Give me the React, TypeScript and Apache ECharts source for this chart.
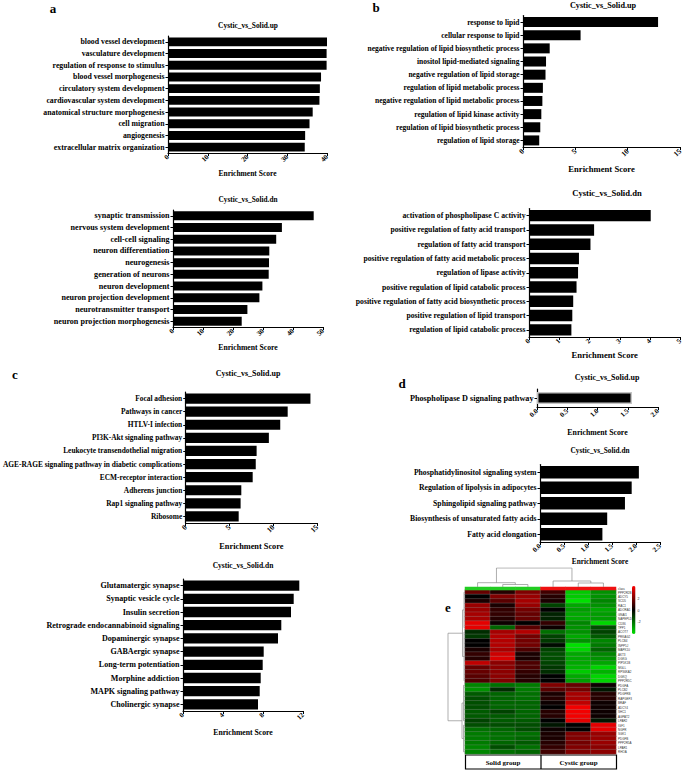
import React, { useEffect, useRef } from "react";
import * as echarts from "echarts";

const FONT = '"Liberation Serif", "Times New Roman", Times, serif';

// ---------- panel a ----------
const aUpTerms = ["blood vessel development", "vasculature development", "regulation of response to stimulus", "blood vessel morphogenesis", "circulatory system development", "cardiovascular system development", "anatomical structure morphogenesis", "cell migration", "angiogenesis", "extracellular matrix organization"];
const aUpScores = [40.0, 39.9, 39.9, 38.5, 38.2, 38.1, 36.4, 35.6, 34.5, 34.4];
const aDnTerms = ["synaptic transmission", "nervous system development", "cell-cell signaling", "neuron differentiation", "neurogenesis", "generation of neurons", "neuron development", "neuron projection development", "neurotransmitter transport", "neuron projection morphogenesis"];
const aDnScores = [46.9, 36.3, 34.4, 32.1, 32.0, 31.9, 29.8, 28.8, 24.8, 22.9];

// ---------- panel b ----------
const bUpTerms = ["response to lipid", "cellular response to lipid", "negative regulation of lipid biosynthetic process", "inositol lipid-mediated signaling", "negative regulation of lipid storage", "regulation of lipid metabolic process", "negative regulation of lipid metabolic process", "regulation of lipid kinase activity", "regulation of lipid biosynthetic process", "regulation of lipid storage"];
const bUpScores = [12.9, 5.5, 2.55, 2.2, 2.15, 1.9, 1.85, 1.75, 1.65, 1.55];
const bDnTerms = ["activation of phospholipase C activity", "positive regulation of fatty acid transport", "regulation of fatty acid transport", "positive regulation of fatty acid metabolic process", "regulation of lipase activity", "positive regulation of lipid catabolic process", "positive regulation of fatty acid biosynthetic process", "positive regulation of lipid transport", "regulation of lipid catabolic process"];
const bDnScores = [4.02, 2.15, 2.03, 1.65, 1.62, 1.57, 1.46, 1.43, 1.4];

// ---------- panel c ----------
const cUpTerms = ["Focal adhesion", "Pathways in cancer", "HTLV-I infection", "PI3K-Akt signaling pathway", "Leukocyte transendothelial migration", "AGE-RAGE signaling pathway in diabetic complications", "ECM-receptor interaction", "Adherens junction", "Rap1 signaling pathway", "Ribosome"];
const cUpScores = [14.25, 11.65, 10.8, 9.5, 8.1, 8.0, 7.65, 6.35, 6.27, 6.05];
const cDnTerms = ["Glutamatergic synapse", "Synaptic vesicle cycle", "Insulin secretion", "Retrograde endocannabinoid signaling", "Dopaminergic synapse", "GABAergic synapse", "Long-term potentiation", "Morphine addiction", "MAPK signaling pathway", "Cholinergic synapse"];
const cDnScores = [11.63, 11.07, 10.8, 9.83, 9.5, 8.07, 7.97, 7.77, 7.67, 7.5];

// ---------- panel d ----------
const dUpTerms = ["Phospholipase D signaling pathway"];
const dUpScores = [1.57];
const dDnTerms = ["Phosphatidylinositol signaling system", "Regulation of lipolysis in adipocytes", "Sphingolipid signaling pathway", "Biosynthesis of unsaturated fatty acids", "Fatty acid elongation"];
const dDnScores = [2.06, 1.91, 1.77, 1.4, 1.3];

// ---------- panel e (heatmap) ----------
const sampleNames = ["S1", "S2", "S3", "C1", "C2", "C3"];
const sampleGroup = [0, 0, 0, 1, 1, 1];
const geneNames = ["PPP2R2B", "ADCY5", "SCD5", "RAC1", "ADORA1", "GNAI1", "NAPEPLD", "CD36", "TPP1", "ACOT7", "PRKAG2", "PLCB4", "INPP5J", "MAPK10", "AKT3", "DGKG", "PIP5K1B", "MGLL", "RPS6KA2", "DGKQ", "PPP2R5C", "PDGFA", "PLCB2", "PDGFRB", "RAPGEF3", "BRAF", "ADCY4", "SHC1", "AGPAT2", "LPAR2", "IGF1", "NGFR", "SGK1", "PDGFB", "PPP2R5A", "LPAR1", "RHOA"];
const expression = [
  [1.6, 0.6, 2.0, 1.0, -3.6, -2.6],
  [0.0, 2.0, 2.4, 0.6, -3.6, -2.6],
  [0.4, 1.4, 2.6, 0.4, -4.0, -2.4],
  [2.4, 0.4, 2.4, -1.2, -3.0, -2.6],
  [2.4, 0.8, 1.8, 0.0, -2.8, -3.0],
  [2.6, 0.8, 1.6, -0.6, -3.0, -2.8],
  [2.6, 0.6, 1.6, -0.6, -3.0, -2.8],
  [3.6, 0.2, 0.0, 0.8, -2.4, -3.8],
  [3.6, -1.8, 1.4, 0.2, -2.6, -1.4],
  [-0.8, 2.6, 2.8, -2.0, -2.6, -1.2],
  [-1.0, 2.8, 1.8, -1.2, -3.0, -1.6],
  [0.0, 2.8, 1.8, -1.0, -2.6, -2.4],
  [0.0, 2.8, 1.8, -0.2, -4.0, -2.2],
  [0.4, 2.6, 1.2, -1.2, -3.8, -1.8],
  [0.8, 3.2, 0.4, -1.4, -3.0, -2.4],
  [0.6, 3.4, 0.4, -1.4, -3.0, -2.6],
  [3.0, 2.2, 1.2, -1.2, -3.0, -3.0],
  [1.6, 2.2, 1.2, -1.0, -3.2, -3.8],
  [1.6, 2.2, 0.8, -0.8, -3.6, -3.2],
  [1.4, 2.2, 0.6, 0.0, -3.0, -3.8],
  [1.2, 2.0, 0.6, 0.0, -2.8, -3.8],
  [-2.4, -2.0, -2.2, 2.0, 1.6, 0.2],
  [-2.6, -0.8, -2.2, 1.4, 1.8, -0.4],
  [-1.6, -1.8, -2.0, 0.4, 2.6, 0.6],
  [-1.4, -1.8, -2.0, 0.6, 2.6, 0.6],
  [-1.4, -1.8, -1.8, 0.2, 3.0, 0.2],
  [-1.4, -1.8, -1.8, 0.0, 3.8, 0.2],
  [-1.6, -1.2, -1.8, 0.6, 3.8, 0.2],
  [-1.6, -1.6, -1.8, 0.6, 3.8, 0.2],
  [-1.2, -1.6, -1.6, 0.0, 3.6, -0.4],
  [-1.4, -1.4, -1.4, -0.4, 0.0, 3.6],
  [-2.0, -1.8, -1.4, 0.2, 0.0, 3.6],
  [-2.2, -2.0, -2.0, 0.4, 2.0, 2.4],
  [-2.2, -2.0, -1.8, 0.4, 2.0, 2.4],
  [-2.2, -1.8, -1.6, 0.6, 1.8, 2.4],
  [-2.4, -1.4, -2.0, 0.8, 2.0, 2.2],
  [-2.4, -2.0, -1.8, 1.0, 2.0, 2.2],
];
const legendTicks = ["2", "0", "-2"];
// dendrogram links: [pos1, height1, pos2, height2, mergeHeight]
const rowLinks = [
  [0.5, 0, 8.5, 0, 1],
  [9.5, 0, 20.5, 0, 1],
  [21.5, 0, 29.5, 0, 1.5],
  [30.5, 0, 36.5, 0, 1.5],
  [4.5, 1, 15, 1, 2.5],
  [25.5, 1.5, 33.5, 1.5, 3],
  [9.75, 2.5, 29.5, 3, 17],
];
const colLinks = [
  [1.5, 0, 2.5, 0, 2.5],
  [0.5, 0, 2, 2.5, 4.3],
  [4.5, 0, 5.5, 0, 4],
  [3.5, 0, 5, 4, 6],
  [1.25, 4.3, 4.25, 6, 19],
];

type Panel = {
  cats: string[]; vals: number[];
  left: number; top: number; width: number; height: number;
  max: number; interval: number; gap: string;
  labelSize: number; tickSize: number; nameSize: number; nameGap: number;
  decimals: number; border?: boolean;
};

const panels: Panel[] = [
  { cats: aUpTerms, vals: aUpScores, left: 168, top: 36, width: 159, height: 117, max: 40, interval: 10, gap: "24%", labelSize: 7.8, tickSize: 7, nameSize: 7.5, nameGap: 16, decimals: 0 },
  { cats: aDnTerms, vals: aDnScores, left: 173, top: 210, width: 150, height: 117, max: 50, interval: 10, gap: "23%", labelSize: 8.1, tickSize: 7, nameSize: 7.7, nameGap: 16, decimals: 0 },
  { cats: bUpTerms, vals: bUpScores, left: 523, top: 15.5, width: 161, height: 131.5, max: 15, interval: 5, gap: "24%", labelSize: 7.5, tickSize: 7.5, nameSize: 8.6, nameGap: 17, decimals: 0 },
  { cats: bDnTerms, vals: bDnScores, left: 529, top: 208.5, width: 154, height: 128.5, max: 5, interval: 1, gap: "20%", labelSize: 7.7, tickSize: 7, nameSize: 8.6, nameGap: 13, decimals: 0 },
  { cats: cUpTerms, vals: cUpScores, left: 183, top: 392, width: 134, height: 131, max: 15, interval: 5, gap: "22%", labelSize: 7.4, tickSize: 7.5, nameSize: 8.3, nameGap: 19, decimals: 0 },
  { cats: cDnTerms, vals: cDnScores, left: 183, top: 579, width: 120, height: 132, max: 12, interval: 4, gap: "22%", labelSize: 8.05, tickSize: 7, nameSize: 7.7, nameGap: 17, decimals: 0 },
  { cats: dUpTerms, vals: dUpScores, left: 537, top: 389, width: 121, height: 18, max: 2, interval: 0.5, gap: "33%", labelSize: 8.2, tickSize: 7, nameSize: 7.8, nameGap: 21, decimals: 1, border: true },
  { cats: dDnTerms, vals: dDnScores, left: 540, top: 464.5, width: 120, height: 77.5, max: 2.5, interval: 0.5, gap: "20%", labelSize: 7.7, tickSize: 7, nameSize: 7.3, nameGap: 16, decimals: 1 },
];

const titles = [
  { text: "Cystic_vs_Solid.up", x: 248, y: 25, size: 7.4 },
  { text: "Cystic_vs_Solid.dn", x: 248, y: 199, size: 7.3 },
  { text: "Cystic_vs_Solid.up", x: 603, y: 5, size: 8.2 },
  { text: "Cystic_vs_Solid.dn", x: 607, y: 193, size: 8.6 },
  { text: "Cystic_vs_Solid.up", x: 248, y: 373, size: 8 },
  { text: "Cystic_vs_Solid.dn", x: 243, y: 565, size: 7.5 },
  { text: "Cystic_vs_Solid.up", x: 607, y: 377, size: 8 },
  { text: "Cystic_vs_Solid.dn", x: 600, y: 450, size: 7.3 },
];
const letters = [
  { text: "a", x: 53, y: 8 },
  { text: "b", x: 376, y: 7 },
  { text: "c", x: 15, y: 374 },
  { text: "d", x: 402, y: 383 },
  { text: "e", x: 448, y: 607 },
];

function link(l: number[], horizontal: boolean) {
  const [p1, h1, p2, h2, h] = l;
  const pts = [[h1, p1], [h, p1], [h, p2], [h2, p2]];
  return { coords: horizontal ? pts : pts.map(([a, b]) => [b, a]) };
}

function buildOption() {
  const grid: any[] = [];
  const xAxis: any[] = [];
  const yAxis: any[] = [];
  const series: any[] = [];
  const axisLineStyle = { color: "#000", width: 1.2 };

  panels.forEach((p, i) => {
    grid.push({ left: p.left, top: p.top, width: p.width, height: p.height });
    xAxis.push({
      type: "value", gridIndex: i, min: 0, max: p.max, interval: p.interval,
      axisLine: { show: true, lineStyle: axisLineStyle },
      axisTick: { show: true, length: 3, lineStyle: { color: "#000", width: 1 } },
      splitLine: { show: false },
      axisLabel: {
        rotate: 45, margin: 3, fontSize: p.tickSize, fontWeight: "bold", fontFamily: FONT, color: "#000",
        formatter: (v: number) => v.toFixed(p.decimals),
      },
      name: "Enrichment Score", nameLocation: "middle", nameGap: p.nameGap,
      nameTextStyle: { fontSize: p.nameSize, fontWeight: "bold", fontFamily: FONT, color: "#000" },
    });
    yAxis.push({
      type: "category", gridIndex: i, data: p.cats, inverse: true,
      axisLine: { show: true, onZero: false, lineStyle: axisLineStyle },
      axisTick: { show: true, alignWithLabel: true, length: 2.5, lineStyle: { color: "#000", width: 1 } },
      axisLabel: { interval: 0, margin: 3.5, fontSize: p.labelSize, fontWeight: "bold", fontFamily: FONT, color: "#000" },
      splitLine: { show: false },
    });
    series.push({
      type: "bar", xAxisIndex: i, yAxisIndex: i, data: p.vals, barCategoryGap: p.gap,
      itemStyle: p.border ? { color: "#000", borderColor: "#c4c4c4", borderWidth: 1.5 } : { color: "#000" },
      silent: true,
    });
  });

  // heatmap grid
  const hi = panels.length;
  grid.push({ left: 465, top: 590, width: 151, height: 164 });
  xAxis.push({ type: "category", gridIndex: hi, data: sampleNames, show: false });
  yAxis.push({
    type: "category", gridIndex: hi, data: geneNames, inverse: true, position: "right",
    axisLine: { show: false }, axisTick: { show: false },
    axisLabel: { interval: 0, fontSize: 3, margin: 2, color: "#333", fontFamily: "Liberation Sans, Arial, sans-serif" },
  });
  const heatData: number[][] = [];
  expression.forEach((row, r) => row.forEach((v, c) => heatData.push([c, r, v])));
  const heatSeriesIndex = series.length;
  series.push({
    type: "heatmap", xAxisIndex: hi, yAxisIndex: hi, data: heatData, silent: true,
    itemStyle: { borderColor: "rgba(150,150,150,0.7)", borderWidth: 0.4 },
    emphasis: { disabled: true }, progressive: 0,
  });

  // class bar
  const ci = hi + 1;
  grid.push({ left: 465, top: 587, width: 151, height: 3 });
  xAxis.push({ type: "category", gridIndex: ci, data: sampleNames, show: false });
  yAxis.push({
    type: "category", gridIndex: ci, data: ["class"], position: "right",
    axisLine: { show: false }, axisTick: { show: false },
    axisLabel: { fontSize: 3, margin: 2, color: "#333", fontFamily: "Liberation Sans, Arial, sans-serif" },
  });
  const classSeriesIndex = series.length;
  series.push({
    type: "heatmap", xAxisIndex: ci, yAxisIndex: ci, silent: true,
    data: sampleGroup.map((g, c) => [c, 0, g]), emphasis: { disabled: true },
  });

  // row dendrogram
  const ri = hi + 2;
  grid.push({ left: 445, top: 590, width: 20, height: 164 });
  xAxis.push({ type: "value", gridIndex: ri, min: 0, max: 20, inverse: true, show: false });
  yAxis.push({ type: "value", gridIndex: ri, min: 0, max: geneNames.length, inverse: true, show: false });
  series.push({
    type: "lines", coordinateSystem: "cartesian2d", xAxisIndex: ri, yAxisIndex: ri, polyline: true, silent: true,
    data: rowLinks.map((l) => link(l, true)),
    lineStyle: { color: "#8c8c8c", width: 0.7, opacity: 1 },
  });

  // column dendrogram
  const di = hi + 3;
  grid.push({ left: 465, top: 567.5, width: 151, height: 19.5 });
  xAxis.push({ type: "value", gridIndex: di, min: 0, max: sampleNames.length, show: false });
  yAxis.push({ type: "value", gridIndex: di, min: 0, max: 19.5, show: false });
  series.push({
    type: "lines", coordinateSystem: "cartesian2d", xAxisIndex: di, yAxisIndex: di, polyline: true, silent: true,
    data: colLinks.map((l) => link(l, false)),
    lineStyle: { color: "#8c8c8c", width: 0.7, opacity: 1 },
  });

  const graphic: any[] = [];
  titles.forEach((t) =>
    graphic.push({
      type: "text", silent: true,
      style: { text: t.text, x: t.x, y: t.y, font: `bold ${t.size}px ${FONT}`, fill: "#000", align: "center", verticalAlign: "middle", textAlign: "center", textVerticalAlign: "middle" },
    })
  );
  letters.forEach((t) =>
    graphic.push({
      type: "text", silent: true,
      style: { text: t.text, x: t.x, y: t.y, font: `bold 13px ${FONT}`, fill: "#000", align: "center", verticalAlign: "middle", textAlign: "center", textVerticalAlign: "middle" },
    })
  );
  // colour key labels
  legendTicks.forEach((t, k) =>
    graphic.push({
      type: "text", silent: true,
      style: { text: t, x: 637.5, y: 599 + k * 11.5, font: `3.5px Liberation Sans, Arial, sans-serif`, fill: "#333", align: "left", verticalAlign: "middle", textAlign: "left", textVerticalAlign: "middle" },
    })
  );
  // group box
  graphic.push({ type: "rect", silent: true, shape: { x: 465.5, y: 755, width: 151, height: 14 }, style: { fill: "#fff", stroke: "#000", lineWidth: 1.2 } });
  graphic.push({ type: "line", silent: true, shape: { x1: 541, y1: 755, x2: 541, y2: 769 }, style: { stroke: "#000", lineWidth: 1.2 } });
  graphic.push({ type: "text", silent: true, style: { text: "Solid group", x: 503, y: 762.5, font: `bold 7px ${FONT}`, fill: "#000", align: "center", verticalAlign: "middle", textAlign: "center", textVerticalAlign: "middle" } });
  graphic.push({ type: "text", silent: true, style: { text: "Cystic group", x: 578.5, y: 762.5, font: `bold 7px ${FONT}`, fill: "#000", align: "center", verticalAlign: "middle", textAlign: "center", textVerticalAlign: "middle" } });

  return {
    animation: false,
    backgroundColor: "#fff",
    textStyle: { fontFamily: FONT },
    grid, xAxis, yAxis, series, graphic,
    visualMap: [
      {
        type: "continuous", seriesIndex: heatSeriesIndex, min: -4, max: 4, calculable: false, show: true,
        left: 632, top: 586, itemWidth: 3.5, itemHeight: 48, padding: 0, text: null, showLabel: false,
        inRange: { color: ["#00e000", "#000000", "#ff0000"] },
      },
      {
        type: "piecewise", seriesIndex: classSeriesIndex, show: false,
        pieces: [{ value: 0, color: "#22cc22" }, { value: 1, color: "#ee1111" }],
      },
    ],
  };
}

export default function App() {
  const ref = useRef<HTMLDivElement>(null);
  useEffect(() => {
    document.body.style.margin = "0";
    const chart = echarts.init(ref.current!, null, { renderer: "svg", width: 685, height: 770 });
    chart.setOption(buildOption() as any);
    return () => chart.dispose();
  }, []);
  return <div ref={ref} style={{ width: 685, height: 770, background: "#fff" }} />;
}
